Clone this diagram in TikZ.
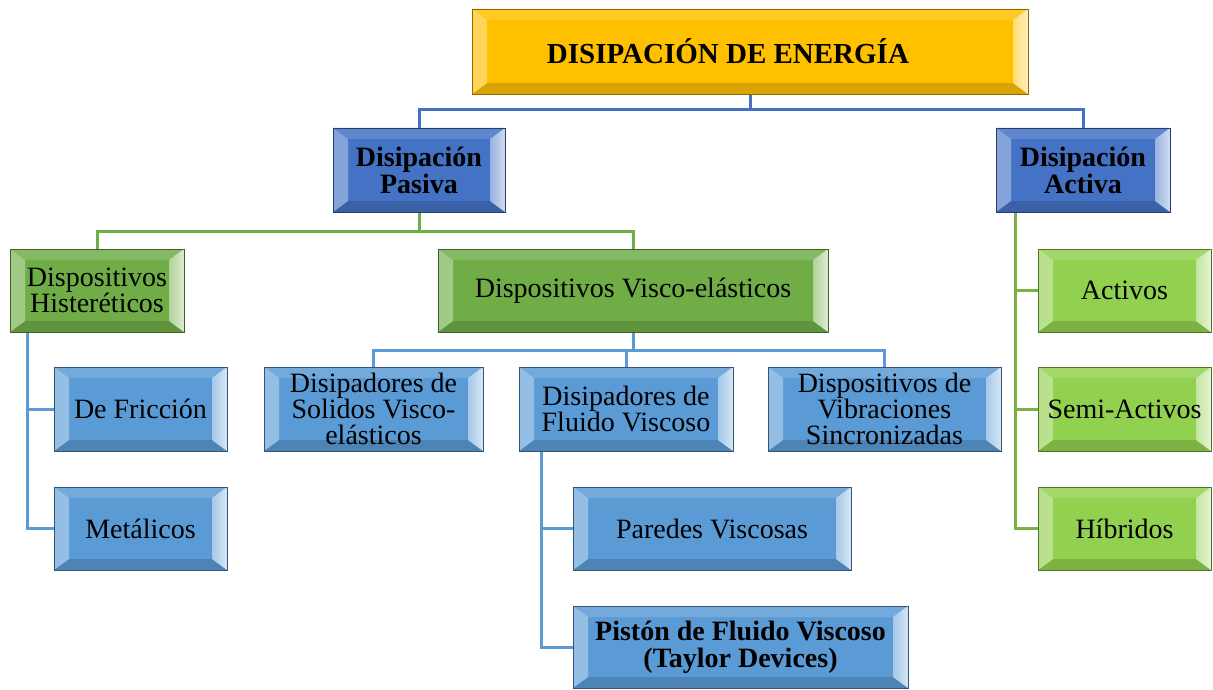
\documentclass[tikz,border=0pt]{standalone}
\usepackage{fontspec}
\setmainfont{Liberation Serif}
\usetikzlibrary{calc}
\pgfdeclarelayer{background}
\pgfsetlayers{background,main}
\definecolor{gold}{HTML}{FFC000}
\definecolor{dblue}{HTML}{4472C4}
\definecolor{dgreen}{HTML}{70AD47}
\definecolor{lgreen}{HTML}{92D050}
\definecolor{lblue}{HTML}{5B9BD5}
\tikzset{
  bevbox/.style={draw=#1!55!black, line width=0.8pt, fill=#1, inner sep=0pt, align=center,
    text=black, font=\fontsize{28}{26}\selectfont,
    path picture={
      \fill[#1!85!white] (path picture bounding box.north west) -- (path picture bounding box.north east)
        -- ($(path picture bounding box.north east)+(-15pt,-11pt)$) -- ($(path picture bounding box.north west)+(15pt,-11pt)$) -- cycle;
      \fill[#1!85!black] (path picture bounding box.south west) -- (path picture bounding box.south east)
        -- ($(path picture bounding box.south east)+(-15pt,11pt)$) -- ($(path picture bounding box.south west)+(15pt,11pt)$) -- cycle;
      \fill[#1!65!white] (path picture bounding box.north west) -- (path picture bounding box.south west)
        -- ($(path picture bounding box.south west)+(15pt,11pt)$) -- ($(path picture bounding box.north west)+(15pt,-11pt)$) -- cycle;
      \shade[left color=#1!55!white, right color=#1!25!white] (path picture bounding box.north east) -- (path picture bounding box.south east)
        -- ($(path picture bounding box.south east)+(-15pt,11pt)$) -- ($(path picture bounding box.north east)+(-15pt,-11pt)$) -- cycle;
    }},
  conn/.style={line width=3pt, draw=#1},
  boldtxt/.style={font=\bfseries\fontsize{28}{27}\selectfont}
}
\begin{document}
\begin{tikzpicture}[x=1pt,y=-1pt]
\useasboundingbox (0,0) rectangle (1213,690);
% nodes
\node[bevbox=gold, minimum width=556pt, minimum height=85pt, font=\bfseries\fontsize{29}{29}\selectfont] (top) at (750,51.5) {DISIPACIÓN DE ENERGÍA\hspace*{44pt}};
\node[bevbox=dblue, boldtxt, minimum width=172pt, minimum height=84pt] (pasiva) at (419,170) {Disipación\\Pasiva};
\node[bevbox=dblue, boldtxt, minimum width=174pt, minimum height=84pt] (activa) at (1083,170) {Disipación\\Activa};
\node[bevbox=dgreen, minimum width=174pt, minimum height=83pt] (hist) at (97,290.5) {Dispositivos\\Histeréticos};
\node[bevbox=dgreen, minimum width=390pt, minimum height=83pt] (visco) at (633,290.5) {Dispositivos Visco-elásticos};
\node[bevbox=lblue, minimum width=173pt, minimum height=84pt] (fric) at (140.5,409) {De Fricción};
\node[bevbox=lblue, minimum width=173pt, minimum height=83pt] (met) at (140.5,528.5) {Metálicos};
\node[bevbox=lblue, minimum width=219pt, minimum height=84pt] (solid) at (373.5,409) {Disipadores de\\Solidos Visco-\\elásticos};
\node[bevbox=lblue, minimum width=214pt, minimum height=84pt] (fluido) at (626,409) {Disipadores de\\Fluido Viscoso};
\node[bevbox=lblue, minimum width=233pt, minimum height=84pt] (vib) at (884.5,409) {Dispositivos de\\Vibraciones\\Sincronizadas};
\node[bevbox=lblue, minimum width=278pt, minimum height=83pt] (paredes) at (712,528.5) {Paredes Viscosas};
\node[bevbox=lblue, boldtxt, minimum width=335pt, minimum height=82pt] (piston) at (740.5,647) {Pistón de Fluido Viscoso\\(Taylor Devices)};
\node[bevbox=lgreen, minimum width=173pt, minimum height=83pt] (activos) at (1124.5,290.5) {Activos};
\node[bevbox=lgreen, minimum width=173pt, minimum height=84pt] (semi) at (1124.5,409) {Semi-Activos};
\node[bevbox=lgreen, minimum width=173pt, minimum height=83pt] (hib) at (1124.5,528.5) {Híbridos};
% branch coordinates
\coordinate (b1) at (750,110);
\coordinate (b2) at (419,231);
\coordinate (b3) at (633,350);
\coordinate (ra) at (1015,212);
\coordinate (rh) at (27,332);
\coordinate (rf) at (541,451);
\begin{pgfonlayer}{background}
\draw[conn=dblue] (top.south) -- (b1);
\draw[conn=dblue] (pasiva.north) |- (b1) -| (activa.north);
\draw[conn=dgreen] (pasiva.south) -- (b2);
\draw[conn=dgreen] (hist.north) |- (b2) -| (visco.north);
\draw[conn=lgreen!85!black] (ra) |- (activos.west);
\draw[conn=lgreen!85!black] (ra) |- (semi.west);
\draw[conn=lgreen!85!black] (ra) |- (hib.west);
\draw[conn=lblue] (rh) |- (fric.west);
\draw[conn=lblue] (rh) |- (met.west);
\draw[conn=lblue] (visco.south) -- (b3);
\draw[conn=lblue] (solid.north) |- (b3) -| (vib.north);
\draw[conn=lblue] (fluido.north) -- (fluido.north |- b3);
\draw[conn=lblue] (rf) |- (paredes.west);
\draw[conn=lblue] (rf) |- (piston.west);
\end{pgfonlayer}
\end{tikzpicture}
\end{document}
